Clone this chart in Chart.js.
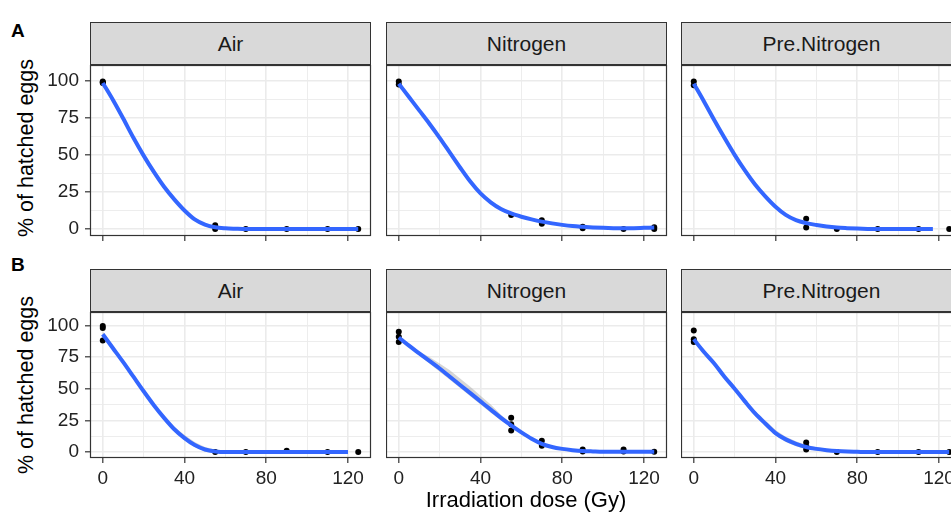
<!DOCTYPE html>
<html>
<head>
  <title>Hatched eggs vs irradiation dose</title>
  <script src="https://cdn.jsdelivr.net/npm/chart.js"></script>
  <style>
    html, body {
      margin: 0;
      padding: 0;
      overflow: hidden;
      background: #fff;
    }
    body {
      font-family: "Liberation Sans", Arial, sans-serif;
    }
    #fig {
      position: relative;
      width: 951px;
      height: 520px;
      overflow: hidden;
    }
    .strip {
      position: absolute;
      box-sizing: border-box;
      height: 43px;
      background: #d9d9d9;
      border: 1px solid #333;
      color: #1a1a1a;
      font-size: 21px;
      line-height: 41px;
      text-align: center;
      white-space: nowrap;
    }
    .tag {
      position: absolute;
      font-weight: bold;
      font-size: 19px;
      line-height: 19px;
      color: #000;
    }
    .ytitle {
      position: absolute;
      width: 240px;
      height: 24px;
      line-height: 24px;
      font-size: 21.5px;
      text-align: center;
      transform: rotate(-90deg);
      white-space: nowrap;
    }
    .xtitle {
      position: absolute;
      width: 300px;
      height: 24px;
      line-height: 24px;
      font-size: 22px;
      text-align: center;
      white-space: nowrap;
    }
    canvas {
      position: absolute;
    }
  </style>
</head>
<body>
<div id="fig"></div>

<script>
  // facets and axis ticks
  const atmospheres = ['Air', 'Nitrogen', 'Pre.Nitrogen'];
  const doseTicks = [0, 20, 40, 60, 80, 100, 120];
  const pctTicks = [0, 12.5, 25, 37.5, 50, 62.5, 75, 87.5, 100];

  // dose grid of the smoothed fits
  const fitDose = [0, 5, 10, 15, 20, 25, 30, 35, 40, 45, 50, 55, 60, 65, 70, 75, 80, 85, 90, 95, 100, 105, 110, 115, 120, 125];
  const fitDoseShort = [0, 5, 10, 15, 20, 25, 30, 35, 40, 45, 50, 55, 60, 65, 70, 75, 80, 85, 90, 95, 100, 105, 110, 115, 117];

  // experiment A
  const airA_dose = [0, 0, 0, 55, 55, 70, 90, 110, 125];
  const airA_hatch = [99, 98.5, 99.5, 2.5, 0, 0, 0, 0, 0];
  const airA_fit = [98.5, 87, 74.5, 61.5, 49.5, 38.5, 28.5, 20, 12.5, 6.5, 3, 1.2, 0.5, 0.2, 0, 0, 0, 0, 0, 0, 0, 0, 0, 0, 0, 0];

  const nitroA_dose = [0, 0, 55, 70, 70, 90, 90, 110, 125, 125];
  const nitroA_hatch = [97.5, 99.5, 9.5, 6, 3.5, 1.5, 0.5, 0, 1.2, 0];
  const nitroA_fit = [98, 89, 80, 71, 61.5, 51.5, 41.5, 32, 24, 18, 13.5, 10.5, 8.3, 6.5, 5, 3.8, 2.8, 2, 1.5, 1.1, 0.8, 0.6, 0.5, 0.6, 0.8, 1];

  const preA_dose = [0, 0, 55, 55, 70, 90, 110, 125];
  const preA_hatch = [99.5, 97, 7, 1, 0, 0, 0, 0];
  const preA_fit = [98, 86, 73.5, 61.5, 50, 39.5, 30, 22, 15, 9.5, 6, 4, 2.7, 1.7, 1, 0.6, 0.3, 0.1, 0, 0, 0, 0, 0, 0, 0];

  // experiment B
  const airB_dose = [0, 0, 0, 55, 70, 90, 110, 125];
  const airB_hatch = [99.5, 98, 88, 0, 0, 1, 0, 0];
  const airB_fit = [93, 82, 71, 59.5, 48, 37, 27, 18, 11, 5.5, 2, 0.5, 0, 0, 0, 0, 0, 0, 0, 0, 0, 0, 0, 0, 0, null];
  const airB_lo = [91, 80.5, 69.5, 58, 46.5, 35.5, 25.5, 16.5, 9.5, 4, 0.5, -0.8, -1, -1, -0.8, -0.6, -0.5, -0.5, -0.5, -0.5, -0.5, -0.5, -0.5, -0.6, -0.7, null];
  const airB_hi = [95, 83.5, 72.5, 61, 49.5, 38.5, 28.5, 20, 13.5, 8, 4, 2, 1, 0.8, 0.6, 0.5, 0.5, 0.5, 0.5, 0.5, 0.5, 0.5, 0.5, 0.6, 0.7, null];

  const nitroB_dose = [0, 0, 0, 55, 55, 55, 70, 70, 90, 90, 110, 110, 125];
  const nitroB_hatch = [95, 91, 87, 27, 22, 17, 9, 5, 2, 0.5, 2, 0.5, 0.3];
  const nitroB_fit = [90.5, 84, 78, 72, 66, 59.5, 53, 46.5, 40, 33.5, 27, 21, 15.5, 10.5, 6.5, 4, 2.5, 1.5, 0.8, 0.5, 0.3, 0.3, 0.3, 0.3, 0.3, 0.3];
  const nitroB_lo = [88.5, 82.5, 76.5, 70, 63.5, 57, 50.5, 44, 37.5, 31, 25, 19.5, 14, 9.5, 5.5, 3.2, 1.8, 0.9, 0.2, -0.2, -0.4, -0.4, -0.5, -0.6, -0.7, -0.8];
  const nitroB_hi = [92.5, 85.5, 79.5, 75, 70, 64.5, 58, 51.5, 44.5, 37.5, 29.5, 22.5, 17, 11.5, 7.5, 4.8, 3.2, 2.1, 1.4, 1.2, 1, 1, 1.1, 1.2, 1.3, 1.4];

  const preB_dose = [0, 0, 0, 55, 55, 55, 70, 90, 110, 125];
  const preB_hatch = [96, 89, 87, 7.5, 4.5, 2, 0, 0, 0, 0];
  const preB_fit = [89, 79, 70, 59.5, 50, 40, 30.5, 22.5, 15, 10, 6.5, 4, 2.5, 1.5, 0.8, 0.4, 0.2, 0, 0, 0, 0, 0, 0, 0, 0, 0];
  const preB_lo = [87, 77.5, 68.5, 58, 48.5, 38.5, 29, 20.5, 13, 8, 4.5, 2.5, 1.2, 0.4, -0.2, -0.5, -0.6, -0.7, -0.7, -0.7, -0.7, -0.7, -0.7, -0.8, -0.9, -1];
  const preB_hi = [91, 80.5, 71.5, 61, 51.5, 41.5, 32.5, 25, 17.5, 12, 8.5, 5.5, 3.8, 2.6, 1.8, 1.3, 1, 0.7, 0.7, 0.7, 0.7, 0.7, 0.7, 0.8, 0.9, 1];

  // layout of the facet grid
  const fig = document.getElementById('fig');
  const colLeft = [90, 386, 681];
  const panelW = 281;
  const rows = {
    A: { strip: 22, top: 65, h: 171, axisH: 7, labels: false },
    B: { strip: 269, top: 312, h: 146, axisH: 34, labels: true }
  };
  const tickFont = { family: '"Liberation Sans", Arial, sans-serif', size: 19 };

  const xy = (xs, ys) => xs.map((x, i) => ({ x: x, y: ys[i] }));

  const zeroPad = sc => {
    sc.paddingLeft = 0;
    sc.paddingRight = 0;
    sc.paddingTop = 0;
    sc.paddingBottom = 0;
  };

  // dark frame round each panel, drawn over the data like ggplot does
  const panelBorder = {
    id: 'panelBorder',
    afterDraw(chart) {
      const { ctx, chartArea: a } = chart;
      ctx.save();
      ctx.strokeStyle = '#333';
      ctx.lineWidth = 1.2;
      ctx.strokeRect(a.left + 0.5, a.top + 0.5, a.right - a.left - 1, a.bottom - a.top - 1);
      ctx.restore();
    }
  };

  function addDiv(cls, text, left, top, width) {
    const d = document.createElement('div');
    d.className = cls;
    d.textContent = text;
    d.style.left = left + 'px';
    d.style.top = top + 'px';
    if (width) d.style.width = width + 'px';
    fig.appendChild(d);
    return d;
  }

  function makePanel(rowKey, col, s) {
    const r = rows[rowKey];
    const yW = col === 0 ? 50 : 0;

    addDiv('strip', atmospheres[col], colLeft[col], r.strip, panelW);

    const canvas = document.createElement('canvas');
    canvas.width = yW + panelW + 1;
    canvas.height = r.h + r.axisH;
    canvas.style.left = (colLeft[col] - yW) + 'px';
    canvas.style.top = r.top + 'px';
    fig.appendChild(canvas);

    const datasets = [];
    if (s.lo) {
      datasets.push({
        data: xy(s.fitX, s.lo), showLine: true, borderWidth: 0,
        pointRadius: 0, fill: false, order: 3
      });
      datasets.push({
        data: xy(s.fitX, s.hi), showLine: true, borderWidth: 0,
        pointRadius: 0, fill: '-1', backgroundColor: 'rgba(153,153,153,0.4)', order: 2
      });
    }
    datasets.push({
      data: xy(s.dose, s.hatch), showLine: false,
      pointRadius: 3, pointBackgroundColor: '#000', pointBorderWidth: 0, order: 1
    });
    datasets.push({
      data: xy(s.fitX, s.fit), showLine: true, borderColor: '#3366ff', borderWidth: 4,
      pointRadius: 0, fill: false, cubicInterpolationMode: 'monotone', order: 0
    });

    new Chart(canvas, {
      type: 'line',
      data: { datasets: datasets },
      plugins: [panelBorder],
      options: {
        responsive: false,
        animation: false,
        events: [],
        layout: { autoPadding: false, padding: { left: 0, right: 1, top: 0, bottom: 0 } },
        plugins: { legend: { display: false }, tooltip: { enabled: false } },
        scales: {
          x: {
            type: 'linear',
            min: -6.25,
            max: 131.25,
            afterBuildTicks: sc => { sc.ticks = doseTicks.map(v => ({ value: v })); },
            afterFit: sc => { sc.height = r.axisH; zeroPad(sc); },
            border: { display: false },
            grid: {
              color: '#ebebeb',
              lineWidth: c => (c.tick && c.tick.value % 40 === 0) ? 1.6 : 0.9,
              tickColor: c => (c.tick && c.tick.value % 40 === 0) ? '#333' : 'rgba(0,0,0,0)',
              tickLength: 5,
              tickWidth: 1.2
            },
            ticks: {
              display: r.labels,
              padding: 4,
              color: '#222',
              font: tickFont,
              maxRotation: 0,
              autoSkip: false,
              callback: v => v % 40 === 0 ? String(v) : ''
            }
          },
          y: {
            min: -4.7,
            max: 110.6,
            afterBuildTicks: sc => { sc.ticks = pctTicks.map(v => ({ value: v })); },
            afterFit: sc => { sc.width = yW; zeroPad(sc); },
            border: { display: false },
            grid: {
              color: '#ebebeb',
              lineWidth: c => (c.tick && c.tick.value % 25 === 0) ? 1.6 : 0.9,
              tickColor: c => (c.tick && c.tick.value % 25 === 0) ? '#333' : 'rgba(0,0,0,0)',
              drawTicks: col === 0,
              tickLength: 5,
              tickWidth: 1.2
            },
            ticks: {
              display: col === 0,
              padding: 6,
              color: '#222',
              font: tickFont,
              autoSkip: false,
              callback: v => v % 25 === 0 ? String(v) : ''
            }
          }
        }
      }
    });
  }

  makePanel('A', 0, { dose: airA_dose, hatch: airA_hatch, fitX: fitDose, fit: airA_fit });
  makePanel('A', 1, { dose: nitroA_dose, hatch: nitroA_hatch, fitX: fitDose, fit: nitroA_fit });
  makePanel('A', 2, { dose: preA_dose, hatch: preA_hatch, fitX: fitDoseShort, fit: preA_fit });
  makePanel('B', 0, { dose: airB_dose, hatch: airB_hatch, fitX: fitDose, fit: airB_fit, lo: airB_lo, hi: airB_hi });
  makePanel('B', 1, { dose: nitroB_dose, hatch: nitroB_hatch, fitX: fitDose, fit: nitroB_fit, lo: nitroB_lo, hi: nitroB_hi });
  makePanel('B', 2, { dose: preB_dose, hatch: preB_hatch, fitX: fitDose, fit: preB_fit, lo: preB_lo, hi: preB_hi });

  // panel tags and axis titles
  addDiv('tag', 'A', 11, 21);
  addDiv('tag', 'B', 11, 255);
  addDiv('ytitle', '% of hatched eggs', 26 - 120, 148 - 12);
  addDiv('ytitle', '% of hatched eggs', 26 - 120, 385 - 12);
  addDiv('xtitle', 'Irradiation dose (Gy)', 526 - 150, 488);
</script>
</body>
</html>
